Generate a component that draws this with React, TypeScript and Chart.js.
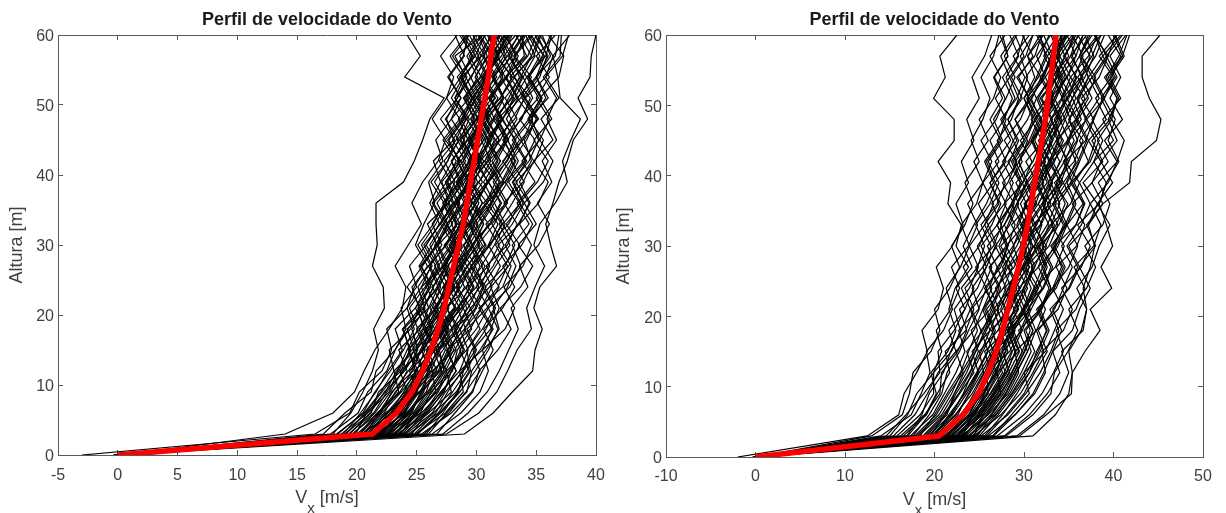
import React, { useEffect, useRef } from "react";
import { Chart, registerables } from "chart.js";

Chart.register(...registerables);

const heights = [0,3,6,9,12,15,18,21,24,27,30,33,36,39,42,45,48,51,54,57,60];
const chartTitle = "Perfil de velocidade do Vento";
const yLabel = "Altura [m]";
const xLabelParts = ["V", "x", " [m/s]"];

const leftMean = [0,21.3,23.3,24.6,25.5,26.2,26.8,27.3,27.7,28.1,28.5,28.9,29.2,29.5,29.8,30.1,30.4,30.7,31,31.2,31.5];
const rightMean = [0,20.5,23.2,24.9,26,26.9,27.6,28.2,28.8,29.4,29.9,30.4,30.8,31.2,31.6,32,32.4,32.7,33,33.3,33.6];

const leftProfiles = [
[0.1,18,19.5,20.5,21.3,21.8,21.4,22.3,22.2,21.3,21.7,21.6,21.6,23.9,24.8,25.5,26.1,27.3,24,25.3,24.2],
[0.3,14,18,19.8,20.6,21.5,22.7,23.8,24.1,23.2,24.3,25.4,24.6,25.5,26.8,27.4,26.3,27.5,28.1,27,28.4],
[0.2,29,31.4,33,34.7,34.9,35.5,34.8,35.3,36.7,36.2,35.8,36.4,36.9,37.6,38.1,39.3,38.5,39.5,39.6,40],
[-0.4,27.5,30.2,31.7,32.6,33.4,34.6,34.2,34.9,35.7,34.8,35.3,36.6,37.6,37.2,37.9,38.7,37,36.8,36.4,37.8],
[-3,16.5,19.4,20.2,22.1,22.9,22.5,24.2,24.8,25.9,24.9,25.6,26.5,26,27.2,26.6,27.9,28.7,27.6,28.9,29.3],
[0,17.2,19,21.2,21.6,23.2,24.1,23.7,25,24.4,25.8,26.9,26.1,27,26.4,28.1,27.5,28.4,29.5,28.6,30],
[0.1,18.3,20.6,22,23.1,22.7,24.5,25.2,24.6,26,27.1,26.3,27.4,28.2,27.3,28.6,29.4,28.2,29,30.2,29.1],
[-0.2,19,21.2,21.8,23.7,24.4,23.9,25.6,26.4,25.3,26.7,25.9,27.7,27.1,28.5,27.7,29,30,29.1,28.2,30.6],
[0.2,19.6,21.8,23.3,24.2,23.5,25.3,26,25.4,27.2,26.5,28,27.2,28.6,27.9,29.3,28.5,29.7,28.8,30.4,31.2],
[0.1,20,22,22.9,24.7,25.3,26.2,25.2,26.9,27.7,26.8,28.4,27.6,29,29.9,28.7,30.1,29.2,30.6,31.4,30.3],
[-0.1,20.4,23,24.2,23.6,25.6,26.5,27.3,26.3,27.6,28.7,27.5,29.1,28.4,30,30.8,29.6,30.9,29.9,31,32],
[0,20.8,22.5,24,25.2,26.4,25.6,26.9,28,27.1,28.2,29.3,28.3,29.8,30.6,29.4,31,30.2,31.7,30.6,31.9],
[0.3,21,23.6,25,24.4,26.1,27.4,26.4,27.8,28.9,27.8,29.4,30.2,29.2,30.7,31.5,30.2,31.6,30.5,32.1,33],
[0,21.4,23.1,25.3,26.1,25.4,27,28.2,27.3,28.6,29.6,28.6,30,31,29.8,31.3,30.4,32,33,31.6,32.6],
[-0.3,21.6,24,24.7,26.6,27.4,26.7,28.1,29,28.2,29.7,30.6,29.4,30.9,31.8,30.7,32.2,31.2,32.6,33.5,32.3],
[0.2,21.9,24.4,25.6,25.9,27.2,28.4,27.5,29.2,29.9,28.9,30.3,31.3,30.2,31.5,32.5,31.4,33,33.9,32.7,34],
[0,22.3,24.1,26,27.3,26.9,28.7,29.5,28.4,29.8,30.8,29.7,31.2,32,31,32.7,31.8,33.4,32.4,34.2,33.3],
[0.1,22.6,25,26.6,26.3,28.2,29.1,28.4,30,30.7,29.6,31.2,32.1,31,32.6,33.3,32.1,33.7,34.6,33.2,34.7],
[-0.2,23,25.3,26.2,27.8,28.7,27.9,29.7,30.5,29.5,31.2,32.1,30.9,32.4,33.3,32.2,33.8,34.5,33.1,34.8,35.4],
[0.2,23.4,25.9,27.2,28.3,27.6,29.5,30.4,29.3,31,31.9,30.8,32.5,33.4,32.2,33.9,34.7,33.4,35,35.7,34.4],
[0,23.9,26,27.9,27.5,29.2,30.3,29.5,31.1,32,31,32.7,33.6,32.4,34,34.9,33.6,35.2,34.2,35.8,36.3],
[0.1,24.3,26.8,28,29.2,30,29.2,30.9,31.9,30.8,32.6,33.4,32.3,33.9,34.8,33.7,35.2,34.1,35.8,36.4,35.3],
[-0.1,24.9,27.4,28.9,28.6,30.5,31.3,30.2,32.2,32.9,31.8,33.6,34.4,33.3,34.9,35.6,34.4,36,35,36.6,36.9],
[0.2,25.4,27.9,29.6,30.5,31.4,30.6,32.2,33.2,32.2,33.8,34.7,33.6,35.1,36,34.8,36.3,35.3,36.9,37.3,36],
[0,26.3,28.7,30.3,31,30.5,32.4,33.2,32.3,33.9,34.6,33.6,35.2,36,34.8,36.4,35.4,36.9,35.8,37.2,37.7],
[0.1,22.2,23.7,24.8,26,26.7,25.7,27.6,28.5,27.4,28.4,29.5,28.5,29.2,30.4,29.3,30.7,31.8,30.6,31.8,32.9],
[-0.2,21.2,22.6,24.4,24.9,26.3,27.3,26.1,27.2,28.3,29.4,28.2,29.4,30.5,29.4,30.2,31.3,30.1,31.2,32.3,31.2],
[0,20.2,21.7,23.6,24.6,25,26,26.8,25.8,27.3,28.1,27,28.2,29.3,28.4,29.7,30.7,29.6,30.9,31.8,30.9],
[0.2,19.3,21.4,22.5,23.9,24.8,24.2,26,26.8,26,27.5,28.3,27.2,28.5,29.4,28.4,29.8,29,30.4,29.4,30.8],
[0,18.7,20.9,22.7,23.4,24.2,25.1,24.4,25.7,26.6,25.6,27,28,27,28,29,27.9,29.4,28.4,29.8,29.8],
[-0.1,23.2,24.6,25.3,27,27.8,28.6,27.5,28.7,29.6,28.4,29.8,30.9,29.6,30.9,31.6,30.5,32,33,31.7,33.3],
[0.1,24.6,25.8,27.3,27.9,29,28.2,30,30.8,29.6,31,31.8,30.6,32.1,33,31.6,33.2,34,32.8,34.3,35],
[0,25.8,27.2,28.4,29.5,29.2,30.5,31.5,30.5,31.6,32.8,31.9,33,34,32.9,34.2,35,33.8,35.1,36,34.9],
[0.2,22.9,24.3,25.8,26.4,27.9,27.1,28.8,29.7,28.7,30.2,29.4,30.8,31.6,30.3,31.9,30.9,32.3,31.4,33,32],
[-0.2,21.8,23.9,25,25.7,26.9,28,27,28.3,29.2,28.1,29.6,30.5,29.5,30.3,31.2,32.2,31,32.2,31.1,32.4],
[0.1,20.6,22.3,23.2,25,25.7,25,26.6,27.6,28.5,27.3,28.8,29.6,28.6,29.6,28.6,30,31,29.9,30.9,30.1],
[0,19.9,20.8,22.4,23.3,24.6,25.6,25.1,26.2,25.4,26.8,27.6,26.7,28,29.1,28,29.2,28.2,29.6,30.4,29.4],
[0.2,18.9,20.3,21.6,22.6,23.8,23.2,24.9,25.8,26.8,25.8,26.9,28.1,27.4,28.7,27.4,28.8,29.7,28.7,29.7,28.6],
[-0.1,17.8,20.1,20.9,22.5,23.2,24.3,25.4,24.2,25.5,26.6,27.5,26.4,27.9,26.9,28.3,29.1,27.9,28.9,27.8,29.2],
[0,23.6,25.1,26.5,28,28.4,29.6,28.9,30.3,31.1,30.1,31.5,32.4,31.4,32.5,33.6,32.5,33.5,32.5,34,33.8],
[0.1,24.1,26.3,27.4,28.9,29.6,30.8,31.6,30.7,32.4,33.2,32.2,33.7,32.7,34.1,33,34.4,35.4,34.3,35.3,34.3],
[-0.2,25.1,27,28.6,29.9,31,31.8,31,32.8,33.7,33,34.4,33.4,34.9,33.8,35.3,36.1,35,36.1,35,36.6],
[0.3,26.7,28.2,29.7,30.2,31.8,32.9,32,33.7,34.7,33.5,35,34,35.6,36.4,35.3,34.6,35.8,35,36.2,35.5],
[0,27.2,29.3,30.9,31.9,32.7,33.5,32.9,34.3,33.6,35.2,36.1,35.1,36.3,35.5,36.7,35.9,36.7,35.6,37,37.1],
[0.1,19.4,21.1,22.3,24,25.1,24.6,25.7,25.1,26.3,25.4,26.6,27.5,26.5,27.6,28.5,27.4,28.7,27.7,29,28.2],
[-0.1,20.3,21.9,23.5,23.1,24.9,25.8,24.9,26.1,26.9,26.1,27.2,28.4,27.5,28.6,27.6,28.9,29.6,28.6,29.9,28.9],
[0,20.9,22.8,23.9,24.9,24.3,25.9,26.6,27.4,26.5,27.9,28.6,27.7,28.8,27.9,29.2,30.2,29.1,30.1,29.2,30.5],
[0.2,21.1,23.3,24.5,25.6,24.9,26.6,27.7,26.7,28,28.8,27.9,29,28,29.4,30.3,29.2,30.4,29.5,30.7,29.7],
[0,21.7,23.2,24.3,25.4,26.5,25.8,27.2,28.1,27.2,28.4,27.5,28.9,29.9,28.9,30,31.1,30,31,30.1,31.4],
[-0.2,22,23.4,24.9,26.3,25.8,27.2,28.3,27.2,28.5,29.3,28.5,29.7,28.8,30.2,31,30,31.3,32.2,31.3,32.3],
[0.1,22.4,24.2,25.5,26.8,27.6,26.8,28.2,27.3,28.8,29.7,28.8,30,30.9,30.1,31.1,32,31.1,32.4,31.4,32.8],
[0,22.8,24.7,25.9,27.1,26.4,27.9,28.9,28,29.3,30.3,29.3,30.5,29.6,31,31.9,30.8,32.2,31.3,32.6,33.5],
[0.2,23.1,24.9,26.3,27.4,28.3,27.4,28.7,29.8,28.9,30,31,29.8,31,32,31,32.2,33.1,32,33.3,34.1],
[-0.1,23.5,25.6,26.8,27.7,28.9,28.1,29.3,30.2,29.2,30.7,30,31.3,32.3,31.3,32.4,31.6,32.9,33.8,32.7,33.9],
[0,23.8,25.4,27.1,28.3,27.5,29,30,29.1,30.5,29.6,31.1,32,31,32.3,33.2,32.2,33.2,34.2,33.1,34.5],
[0.1,19.7,21.5,22.8,23.8,25.4,26.3,25.5,26.7,27.5,26.7,27.7,28.6,27.6,28.9,29.6,28.7,30,30.9,29.9,30.7],
[0,20.5,22.1,23.7,25.1,24.3,25.5,26.3,27,26.1,27.4,28.4,27.4,28.7,29.7,28.9,29.9,28.9,30.3,31.2,30.2],
[-0.3,21.5,22.9,24.1,25.3,26,25.2,26.7,27.7,26.8,28,29,28.1,29.3,28.4,29.5,30.5,29.4,30.7,31.6,30.6],
[0.2,22.1,23.8,25.1,24.8,26.6,27.6,26.5,27.9,28.7,27.7,28.9,30,29,30.2,29.3,30.5,31.5,30.4,31.7,32.7],
[0,21.3,23.5,24.6,26.2,26.9,26.2,27.5,28.6,27.6,29,29.9,29,30.1,29.3,30.6,31.5,30.7,31.9,32.8,31.8],
[0.1,22.5,24.5,25.4,26.9,27.9,26.9,28.5,29.4,28.6,29.8,30.6,29.7,31,32,30.9,32.1,31.1,32.5,33.3,32.5],
[-0.1,23.3,25,26.7,27.5,26.7,28.4,29.2,28.3,29.6,30.5,29.5,30.9,31.9,30.7,32,32.9,32,33.2,32.3,33.6],
[0,24,25.7,27,28.6,29.3,28.6,29.9,30.6,29.9,31.1,32.2,31.2,32.2,33.2,32.3,33.4,32.4,33.7,34.6,33.6],
[0.2,18.4,20.5,21.5,22.8,23.9,24.8,24.2,25.4,26.2,25.1,26.4,27.3,26.2,27.6,28.2,27,28.4,29.2,28,29.4],
[0,19.1,20.7,22.1,23.5,24.5,23.8,25.3,26,25.2,26.3,27.3,26.3,27.5,28.3,27.2,28.6,27.5,28.7,29.6,28.8],
[0.1,24.5,26.4,28.3,29.4,28.6,30,31,30,31.4,32.3,31.3,32.6,31.6,32.8,33.8,32.9,34.1,33.2,34.6,35.3],
[-0.2,25,26.9,28.5,28.9,30.3,31.4,30.4,31.8,32.6,31.6,33,34,33.1,34.2,33.2,34.6,35.5,34.4,35.6,34.6],
[0,25.6,27.7,29.1,30.3,29.7,31.2,31.9,31.2,32.7,33.6,32.5,33.9,33,34.4,35.2,34.3,35.4,34.4,35.5,36.2],
[0.1,21.9,23,24.2,25.8,26.8,27.7,26.7,27.4,28.4,27.5,28.7,29.3,28.3,29.5,30.6,29.5,30.6,31.5,30.5,31.7],
[0,22.7,24,25.2,26.7,25.9,27.5,28.6,27.6,28.2,29.2,30.1,29.1,30.2,31.2,30.4,31.4,32.3,31.5,32.5,31.6],
[-0.1,23.7,24.8,26.1,27.2,28.1,27.3,28.4,29.5,30.3,29.4,30.4,31.5,30.6,31.7,32.6,31.7,32.7,33.6,32.9,34],
[0.2,20.7,21.8,23,24.3,25.5,26.5,25.6,26.4,27.4,28.3,27.3,28.3,29.4,28.7,29.8,30.9,29.8,30.8,31.9,31],
[0,21,22.4,24.6,25.5,24.7,26.1,27.1,28.2,27.3,28.3,29.2,28.4,29.5,30.4,29.6,30.6,29.7,30.8,31.8,32.4],
[0.1,24.8,26.6,27.6,28.8,29.9,29,30.4,31.3,30.4,31.5,32.4,31.5,32.6,33.5,32.6,33.7,34.7,33.9,34.9,34.1],
[-0.2,26,27.5,29.2,29.6,30.8,31.9,31.4,32.6,33.3,32.4,33.5,34.5,33.6,34.6,34,35.1,34,35.3,35.9,35.1]
];

const rightProfiles = [
[0.1,17,19,20.2,19.6,21.5,22.4,21.6,22.3,23.8,22.4,23,21.5,21.8,20.4,22.2,22.2,19.9,21.2,20.6,22.5],
[0.3,31,33.5,35,35.4,35,36.4,37,36.6,37.4,37.9,37.2,38.8,41.8,42,44.8,45.3,44,43.2,43.2,45.2],
[-2,12.5,16,16.6,18,19.2,18.6,20.4,21,20.2,22,23.2,22.4,23.8,23,24.4,23.6,25,24.2,25.6,26.4],
[0,13,16.4,17.2,17.6,19.6,20.6,20,21.7,22.8,21.9,23.4,24.3,23.4,25,24.1,25.4,26.2,25.2,26.6,27.2],
[0.2,14,17.4,18.5,19.5,19.1,21,22,21.3,22.9,23.9,23,24.7,25.4,24.4,26,25,26.6,27.4,26.2,27.9],
[-0.3,15,17,18,19.9,20.8,20.2,21.8,22.8,21.9,23.8,24.8,23.7,25.4,26.4,25.2,26.9,27.9,26.7,28.2,27.3],
[0,15.8,18.4,19.9,19.9,21.9,22.9,22.2,23.9,24.9,23.9,25.6,26.6,25.4,27.2,26.2,27.8,28.7,27.6,29.3,30],
[0.1,16.5,19.1,20.3,21.7,21.2,23.5,24.4,23.4,25.4,26.3,25.2,27,27.9,26.8,28.5,27.4,29.2,30.1,28.8,30.6],
[0,17.3,19.8,21.1,22.4,23.4,22.7,24.9,25.8,24.6,26.6,27.5,26.4,28.2,29.2,27.8,29.6,30.6,29.4,31,29.8],
[-0.2,18,20.5,21.9,23,24.4,25.2,24.1,26.1,27,25.9,27.8,28.9,27.6,29.5,30.4,29,30.9,31.9,30.4,32.2],
[0.2,18.7,21,22.7,24,24.9,24.1,26.2,27.2,26.1,28.2,29,27.8,29.9,30.9,29.6,31.4,30.3,32.1,33,31.6],
[0,19.3,21.8,23.3,24.7,25.9,26.8,25.8,27.7,28.7,27.4,29.4,30.3,29.1,31,32,30.8,32.6,33.6,32.2,33.8],
[0.1,19.8,22.3,24.2,25.5,25,27.1,28,26.8,28.9,29.8,28.6,30.6,31.5,30.2,32.2,33.2,31.8,33.8,32.6,34.4],
[-0.1,20.2,22.9,24.6,26.2,27.3,26.4,28.5,29.5,28.3,30.4,31.3,30,32.1,33,31.6,33.6,34.6,33.2,35,34],
[0.2,20.8,23.5,25.4,26.8,27.9,29,27.9,30,31,29.7,31.8,32.7,31.3,33.4,34.4,33,35,35.9,34.4,36.2],
[0,21.2,24.1,26,25.8,28.4,29.6,30.6,29.4,31.6,32.5,31,33.3,34.2,32.7,34.9,35.8,34.3,36.4,37.4,36],
[0.1,21.8,24.6,26.6,28,29.1,28.2,30.5,31.6,30.2,32.4,33.4,32,34.1,35,33.6,35.8,36.8,35.2,37.2,38.2],
[-0.2,22.4,25.4,27.3,28.9,30.1,31,29.8,32.1,33,31.7,33.9,34.9,33.4,35.6,36.6,35,37,38,36.4,38.6],
[0,23,26,28.2,29.4,29,31.4,32.4,31.2,33.5,34.5,33,35.2,36.2,34.6,36.9,37.8,36.4,38.4,39.4,37.8],
[0.2,23.7,26.8,28.7,30.3,31.6,32.5,31.4,33.6,34.6,33.4,35.8,36.7,35.2,37.4,38.4,37,39,40,38.4,40.4],
[0,24.4,27.4,29.6,31,32.2,31.4,33.8,34.8,33.6,35.9,36.8,35.4,37.6,38.6,37.2,39.2,38,39.8,40.8,39.4],
[-0.3,25.2,28.2,30.2,31.8,33,33.9,32.9,35.1,36.2,35,37.2,38.2,36.6,38.8,37.6,39.6,40.4,39,41,41.8],
[0.1,26,29,31.2,32.4,32,34.4,35.4,34.2,36.4,37.4,36,38.4,39.2,37.8,40,38.8,40.8,39.6,41.2,40.2],
[0,27,30,32,33.3,34.4,33.6,35.8,36.8,35.6,37.8,38.6,37.4,39.4,40.4,39,41,39.6,40.8,39.6,41.4],
[0.2,28,31,33,33.4,34.9,36,35,37,38,36.8,38.8,39.6,38.3,40.4,41.2,39.8,40.4,39.2,40.6,41.5],
[0,29.2,32.2,34,35,34.2,36.6,37,35.9,37.6,38.4,39.6,38.2,39.9,38.6,40.4,39.4,40.6,39.4,41,40],
[0.1,29.5,32.5,35.3,35.4,36.8,38.5,37.4,39.8,38.6,39.9,39.2,38.4,39.2,40.6,39.4,40.2,38.9,40.4,39.2,41],
[-0.1,19.1,21.4,22.2,23.6,24.6,25.8,26.8,25.6,27.4,28.2,27,28.6,29.6,28.2,30,29,30.6,29.2,31.2,32],
[0.1,18.4,20,21.4,22.9,23.8,24.8,24,25.4,26.4,25.2,27,28,26.8,28.4,29.4,28.2,29.8,28.6,30.2,31],
[0,17.6,19.4,20.8,21.4,22.8,23.8,25,24.2,25.8,26.8,25.6,27.2,26.2,27.8,28.8,27.6,29,28,29.4,28.4],
[0.2,16.9,18.6,19.4,21,21.8,23,24,23,24.8,25.6,24.6,26.2,27.2,26,27.6,26.6,28,29,27.8,29.2],
[-0.2,22,24.4,25.6,26.6,28,27.2,29.2,30.4,29.2,31.2,32,30.8,32.6,31.4,33.2,34.2,33,34.8,33.6,35.4],
[0,23.4,25.1,26.8,28.4,27.6,29.8,30.8,32,30.8,32.8,33.8,32.6,34.4,33.2,35,36,34.8,36.6,35.2,37],
[0.1,24.8,26.4,28,29.2,30.4,29.4,31.8,32.8,31.6,33.6,34.6,33.4,35.2,36.2,35,37,36,37.6,36.4,38.2],
[0,20.5,22.6,23.8,25,26.4,27.4,26.6,28.4,29.2,28,30,30.8,29.8,31.4,32.4,31.2,33,31.8,33.6,34.6],
[-0.2,21.5,23.4,25,26.3,25.6,28,28.9,27.8,30,31,29.6,31.4,30.4,32.2,33.2,31.8,33.4,34.4,33,34.8],
[0.2,15.4,17.8,19.2,20.4,22.4,21.6,23.4,24.4,23.2,25,26,24.9,26.6,25.6,27.2,28,26.8,28.4,27.4,29],
[0,14.6,16.8,18.8,20.6,20.4,22.2,23.4,22.4,24.2,23.2,24.4,25.8,26.8,25.8,27.4,26.2,27.6,26.6,28.2,27.6],
[0.1,26.5,28.6,30.6,30,32.4,33.4,34.4,33.2,35,36,34.8,36.6,35.4,37.2,38,36.8,38.4,37.2,38.8,37.9],
[-0.1,27.8,30.6,32.6,34,33.2,35.4,36.2,37.4,36.2,38,37,38.8,37.6,39.4,38.2,39.8,38.6,40.2,38.8,40.8],
[0,25.6,27.6,29.2,30.6,31.8,32.8,31.8,33.4,34.4,33,34.8,35.8,34.8,36.2,37.2,36,37.6,36.4,38,39],
[0.2,24,25.8,27.4,27,29.4,28.4,30.2,31.2,30,31.8,32.8,31.6,33,34,32.8,34.4,35.4,34,35.8,36.6],
[0,19.5,21.2,22.8,24.4,23.6,25.4,26.4,27.4,26.2,28,27,28.8,29.8,28.8,30.2,31.2,30,31.6,32.6,31.4],
[-0.3,22.7,24.8,26.2,27.6,26.8,28.8,29.8,28.6,30.6,29.6,31.4,32.4,31.2,32.8,33.8,32.4,34.2,35.2,34,35.6],
[0.1,20,21.6,23.4,24.8,26,25.2,27,28,27,28.8,29.8,28.6,30.4,29.4,31,32,30.6,32.4,31.4,33],
[0,20.6,23.1,24.4,25.6,26.6,27.9,27,28.6,29.6,28.8,30.2,31.2,30.2,31.8,31,32.4,33.4,32.4,33.8,34.8],
[0.2,21.1,23.8,25.2,26.9,26.1,28.3,29.3,28.3,29.8,30.8,29.8,31.3,32.2,31.4,32.6,33.8,32.8,34,33,34.6],
[-0.1,21.9,24.2,25.8,27.1,28.2,27.4,29,30,31,30,31.4,32.4,31.6,33,33.9,33,34.3,33.2,34.6,35.6],
[0,22.2,24.9,26.5,27.8,28.7,29.8,28.8,30.2,31.2,30.4,31.9,33,32,33.4,32.4,33.8,34.8,33.8,35.2,36],
[0.1,22.6,25.2,27,28.3,29.5,28.6,30,31.1,32.1,31.1,32.6,33.6,32.7,34.1,35,34,35.4,36.4,35.4,36.6],
[-0.2,23.2,25.6,27.5,28.7,29.8,30.7,29.8,31.4,32.4,31.4,33,34,33,34.5,35.6,34.6,35.8,34.8,36.2,37.2],
[0,23.9,26.3,27.9,29.1,30.4,31.3,30.4,32.2,33.2,32,33.6,34.6,33.6,35,36,35,36.2,37.2,36.2,37.4],
[0.2,24.2,26.6,28.4,29.7,30.8,30,31.9,33,32,33.4,34.4,33.2,34.7,35.8,34.8,36.4,35.4,36.8,37.8,36.8],
[0,18.9,21.2,22.4,23.9,25.2,26.2,25.4,27,28,26.8,28.4,29.4,28.4,29.8,28.8,30.4,31.4,30.2,31.8,32.8],
[0.1,19.6,22,23.6,24.9,24.2,26.2,27.2,26.2,27.9,28.9,27.8,29.2,30.2,29,30.8,31.8,30.8,32.2,33.2,32.2],
[-0.1,20.1,22.4,23.9,25.3,26.6,25.6,27.6,28.6,27.6,29.2,30.2,29.2,30.8,31.9,30.8,32.4,31.4,33,34,33.2],
[0,18.2,20.8,22.2,23.3,24.6,25.6,26.6,25.8,27.2,28.2,27.4,28.6,29.6,28.6,30,31,30,31.2,30.4,31.8],
[0.2,17.8,20.2,21.6,23.2,22.4,24.4,25.4,26.4,25.4,27,26,27.8,28.8,27.6,29.2,28.2,29.6,30.4,29.6,31],
[0,16.2,18.9,20.6,20.8,22.6,23.6,22.8,24.8,25.8,24.8,26.4,27.4,26.2,28,27,28.6,29.4,28.4,30,29],
[-0.2,25,27.1,28.9,30.6,31.4,32.6,31.6,33.2,34.2,33.2,34.6,35.6,34.4,36,37,35.8,37.2,36,37.6,38.6],
[0.1,25.8,28,30,31.2,32.6,31.6,33.4,34.4,35.4,34.2,35.8,36.8,35.6,37.2,36.2,37.8,38.8,37.6,39.2,38],
[0,26.6,29,31,32.2,33.2,34.2,33.2,35,36,34.8,36.4,37.4,36.2,37.8,38.8,37.6,39,37.8,39.4,40.2],
[0.2,21.4,24,25.5,27,27.6,28.8,27.8,29.6,30.6,29.6,31,30.2,31.8,32.8,31.8,33,32,33.6,34.6,33.4],
[-0.1,20.9,22.9,24.8,26.1,27.2,26.4,28.2,29.2,28.2,29.6,30.6,29.6,31,32,31,32.6,31.6,33,34,33],
[0,22.9,25,26.7,28.1,29,28.1,29.9,30.8,29.8,31.6,30.6,32.2,33.2,32.2,33.6,34.6,33.4,34.8,35.8,34.8],
[0.1,23.5,25.9,27.7,28.9,30,31,30,31.6,32.6,31.6,33.2,32.2,33.8,34.8,33.8,35.2,34.2,35.6,36.6,35.4],
[-0.2,24.6,26.9,28.6,30,31.2,30.2,32,33,32.2,33.8,34.8,33.8,35.4,34.4,35.9,36.9,35.9,37.2,36.2,37.6],
[0,19.9,21.9,23.2,24.2,25.4,26.6,25.6,27,28.2,27.2,28.2,29.2,30.4,29.4,30.6,31.6,30.4,31.4,32.4,31.8],
[0.2,21.7,23.9,25,26.4,27.5,28.4,27.4,28.2,29.4,30.4,29.2,30.2,31.4,32.4,31.2,32.2,33.2,32,33,34.2],
[0,22.5,24.5,25.9,27.3,28.6,27.8,29.4,28.6,30,31,30,31.6,32.8,31.8,33,34,33,34.2,33.2,35],
[-0.1,23.1,24.3,26.3,27.9,27.2,28.9,30.1,29.1,30.3,31.4,30.4,32,33.1,32.1,33.2,32.4,33.6,34.6,33.8,34.2],
[0.1,24.4,25.4,27.1,28.6,29.8,28.8,30.7,29.9,31.2,32.2,31.2,32.8,34,33,34.2,33.4,34.8,35.8,34.6,35.8]
];

const leftXTicks = [-5,0,5,10,15,20,25,30,35,40];
const rightXTicks = [-10,0,10,20,30,40,50];
const yTicks = [0,10,20,30,40,50,60];

const fontFamily = "'Liberation Sans', Arial, sans-serif";
const inkColor = "#404040";
const frameColor = "#595959";

type PanelProps = {
  profiles: number[][];
  mean: number[];
  xMin: number;
  xMax: number;
  xTicks: number[];
  left: number;
  width: number;
  padLeft: number;
  padRight: number;
  bottomSpace: number;
  xTickPadding: number;
  yTitleTop: number;
};

function toPoints(values: number[]) {
  return values.map((x, i) => ({ x, y: heights[i] }));
}

function Panel(p: PanelProps) {
  const ref = useRef<HTMLCanvasElement>(null);
  useEffect(() => {
    const forcedTicks = (values: number[]) => (scale: any) => {
      scale.ticks = values.map((value) => ({ value }));
    };
    const xLabelPlugin = {
      id: "xLabel",
      afterDraw(chart: any) {
        const { ctx, chartArea } = chart;
        const cx = (chartArea.left + chartArea.right) / 2;
        const baseY = chartArea.bottom + 48;
        ctx.save();
        ctx.fillStyle = inkColor;
        ctx.textBaseline = "alphabetic";
        ctx.textAlign = "left";
        ctx.font = `18px ${fontFamily}`;
        const w0 = ctx.measureText(xLabelParts[0]).width;
        const w2 = ctx.measureText(xLabelParts[2]).width;
        ctx.font = `15px ${fontFamily}`;
        const w1 = ctx.measureText(xLabelParts[1]).width;
        const start = cx - (w0 + w1 + w2) / 2;
        ctx.fillText(xLabelParts[1], start + w0, baseY + 10);
        ctx.font = `18px ${fontFamily}`;
        ctx.fillText(xLabelParts[0], start, baseY);
        ctx.fillText(xLabelParts[2], start + w0 + w1, baseY);
        ctx.restore();
      },
    };
    const tickGrid = {
      drawOnChartArea: false,
      drawTicks: true,
      tickLength: -5,
      tickColor: frameColor,
      tickWidth: 1,
    };
    const border = { color: frameColor, width: 1 };
    const chart = new Chart(ref.current as HTMLCanvasElement, {
      type: "scatter",
      data: {
        datasets: [
          { data: toPoints(p.mean), showLine: true, borderColor: "#ff0000", borderWidth: 5.5, pointRadius: 0, borderJoinStyle: "round" },
          ...p.profiles.map((values) => ({
            data: toPoints(values),
            showLine: true,
            borderColor: "#000000",
            borderWidth: 1.2,
            pointRadius: 0,
          })),
        ],
      },
      options: {
        animation: false,
        responsive: false,
        layout: { padding: { left: 0, right: p.padRight, top: 0, bottom: 0 } },
        plugins: {
          legend: { display: false },
          tooltip: { enabled: false },
          title: {
            display: true,
            fullSize: false,
            text: chartTitle,
            color: "#1a1a1a",
            font: { family: fontFamily, size: 18, weight: "bold" },
            padding: { top: 9, bottom: 4.4 },
          },
        },
        scales: {
          x: {
            type: "linear",
            position: "bottom",
            min: p.xMin,
            max: p.xMax,
            grid: tickGrid,
            border,
            afterBuildTicks: forcedTicks(p.xTicks),
            afterFit: (s: any) => { s.height = p.bottomSpace; },
            ticks: { color: inkColor, font: { family: fontFamily, size: 16 }, padding: p.xTickPadding, maxRotation: 0, autoSkip: false },
          },
          xTop: {
            type: "linear",
            position: "top",
            min: p.xMin,
            max: p.xMax,
            grid: tickGrid,
            border,
            afterBuildTicks: forcedTicks(p.xTicks),
            afterFit: (s: any) => { s.height = 0; },
            ticks: { display: false },
          },
          y: {
            type: "linear",
            position: "left",
            min: 0,
            max: 60,
            grid: tickGrid,
            border,
            afterBuildTicks: forcedTicks(yTicks),
            afterFit: (s: any) => { s.width = p.padLeft; },
            ticks: { color: inkColor, font: { family: fontFamily, size: 16 }, padding: 9, labelOffset: 2, autoSkip: false },
            title: { display: true, text: yLabel, color: inkColor, font: { family: fontFamily, size: 18 }, padding: { top: p.yTitleTop, bottom: 0 } },
          },
          yRight: {
            type: "linear",
            position: "right",
            min: 0,
            max: 60,
            grid: tickGrid,
            border,
            afterBuildTicks: forcedTicks(yTicks),
            afterFit: (s: any) => { s.width = 0; },
            ticks: { display: false },
          },
        },
      } as any,
      plugins: [xLabelPlugin],
    });
    return () => chart.destroy();
  }, []);
  return (
    <canvas
      ref={ref}
      width={p.width}
      height={513}
      style={{ position: "absolute", left: p.left, top: 0, width: p.width, height: 513, filter: "blur(0.35px)" }}
    />
  );
}

export default function App() {
  return (
    <div style={{ position: "absolute", left: 0, top: 0, width: 1226, height: 513, overflow: "hidden", background: "#fff" }}>
      <Panel profiles={leftProfiles} mean={leftMean} xMin={-5} xMax={40} xTicks={leftXTicks} left={0} width={621} padLeft={58} padRight={25} bottomSpace={58} xTickPadding={16} yTitleTop={6} />
      <Panel profiles={rightProfiles} mean={rightMean} xMin={-10} xMax={50} xTicks={rightXTicks} left={610} width={617} padLeft={56} padRight={24} bottomSpace={56} xTickPadding={15} yTitleTop={3} />
    </div>
  );
}
